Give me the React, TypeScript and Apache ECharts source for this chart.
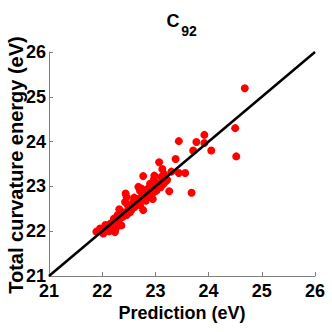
import React, { useEffect, useRef } from "react";
import * as echarts from "echarts";

const titleMain = "C";
const titleSub = "92";
const xAxisTitle = "Prediction (eV)";
const yAxisTitle = "Total curvature energy (eV)";
const axisMin = 21;
const axisMax = 26;
const axisStep = 1;
const fitLine: [number, number][] = [[21, 21], [26, 26]];

const predicted: number[] = [
  24.68, 24.50, 24.52, 23.92, 23.77, 23.92, 23.44, 23.71, 24.05, 23.38,
  23.30, 23.44, 23.56, 23.07, 23.13, 23.11, 22.77, 22.98, 23.26, 23.68,
  22.44, 22.68, 22.71, 22.80, 22.86, 22.96, 23.02, 22.74, 22.83, 22.93,
  22.61, 22.99, 23.08, 22.58, 21.89, 22.02, 21.96, 22.11, 22.18, 22.24,
  22.21, 22.32, 22.33, 22.39, 22.46, 22.27, 22.36, 22.43, 22.46, 22.58,
  22.61, 22.55, 22.77, 22.71, 22.70, 22.79, 22.88, 22.92, 23.04, 23.15,
  23.20, 22.16, 22.25, 22.30, 22.50, 22.52, 22.64, 22.66, 22.85, 22.98,
  23.00, 22.74, 22.90, 22.97, 23.16, 23.22, 22.06, 22.22, 22.40, 22.48,
  22.60, 23.10, 22.20, 22.29, 22.13, 22.82, 22.95,
];
const actual: number[] = [
  25.19, 24.30, 23.67, 24.15, 23.99, 23.97, 24.01, 23.80, 23.80, 23.61,
  23.33, 23.30, 23.30, 23.54, 23.39, 23.21, 23.23, 23.24, 22.89, 22.86,
  22.84, 22.99, 22.91, 22.87, 22.95, 23.02, 22.91, 22.77, 22.77, 22.84,
  22.69, 23.10, 23.06, 22.62, 21.99, 21.95, 22.06, 22.13, 22.02, 21.98,
  22.21, 22.49, 22.28, 22.32, 22.36, 22.10, 22.13, 22.65, 22.76, 22.65,
  22.54, 22.47, 22.47, 22.58, 22.72, 22.79, 22.90, 22.96, 23.00, 23.05,
  23.12, 22.17, 22.05, 22.20, 22.50, 22.42, 22.60, 22.72, 22.82, 22.88,
  22.97, 22.95, 23.06, 23.15, 23.28, 23.15, 22.14, 22.28, 22.42, 22.58,
  22.75, 22.98, 22.09, 22.36, 22.00, 22.68, 22.72,
];

const FONT = "'Liberation Sans', Arial, sans-serif";

export default function App() {
  const ref = useRef<HTMLDivElement>(null);
  useEffect(() => {
    if (!ref.current) return;
    const chart = echarts.init(ref.current, null, { renderer: "svg" });
    const points = predicted.map((x, i) => [x, actual[i]]);
    const axisCommon = {
      type: "value" as const,
      min: axisMin,
      max: axisMax,
      interval: axisStep,
      splitLine: { show: false },
      axisLine: { show: true, lineStyle: { color: "#808080", width: 1 } },
      axisTick: { show: true, inside: true, length: 4, lineStyle: { color: "#808080" } },
    };
    chart.setOption({
      animation: false,
      backgroundColor: "#ffffff",
      grid: { left: 49, right: 17, top: 52, bottom: 56, containLabel: false, outerBoundsMode: "none" },
      xAxis: {
        ...axisCommon,
        axisLabel: { margin: 8, color: "#000", fontSize: 18, lineHeight: 14, fontWeight: "bold", fontFamily: FONT },
      },
      yAxis: {
        ...axisCommon,
        axisLabel: { margin: 3, color: "#000", fontSize: 18, lineHeight: 13, fontWeight: "bold", fontFamily: FONT },
      },
      graphic: [
        {
          type: "text",
          x: 173,
          y: 21,
          style: { text: titleMain, fontSize: 18, fontWeight: "bold", fontFamily: FONT, fill: "#000", textAlign: "center", textVerticalAlign: "middle", align: "center", verticalAlign: "middle" },
        },
        {
          type: "text",
          x: 189,
          y: 31,
          style: { text: titleSub, fontSize: 14, fontWeight: "bold", fontFamily: FONT, fill: "#000", textAlign: "center", textVerticalAlign: "middle", align: "center", verticalAlign: "middle" },
        },
        {
          type: "text",
          x: 182,
          y: 313,
          style: { text: xAxisTitle, fontSize: 18, fontWeight: "bold", fontFamily: FONT, fill: "#000", textAlign: "center", textVerticalAlign: "middle", align: "center", verticalAlign: "middle" },
        },
        {
          type: "text",
          x: 16,
          y: 165,
          rotation: Math.PI / 2,
          style: { text: yAxisTitle, fontSize: 20, fontWeight: "bold", fontFamily: FONT, fill: "#000", textAlign: "center", textVerticalAlign: "middle", align: "center", verticalAlign: "middle" },
        },
      ],
      series: [
        {
          type: "scatter",
          data: points,
          symbolSize: 8,
          itemStyle: { color: "#ff0000", opacity: 1 },
          z: 2,
        },
        {
          type: "line",
          data: fitLine,
          showSymbol: false,
          symbol: "none",
          lineStyle: { color: "#000000", width: 2.5 },
          z: 3,
        },
      ],
    });
    return () => chart.dispose();
  }, []);
  return <div ref={ref} style={{ position: "fixed", left: 0, top: 0, width: 332, height: 332 }} />;
}
